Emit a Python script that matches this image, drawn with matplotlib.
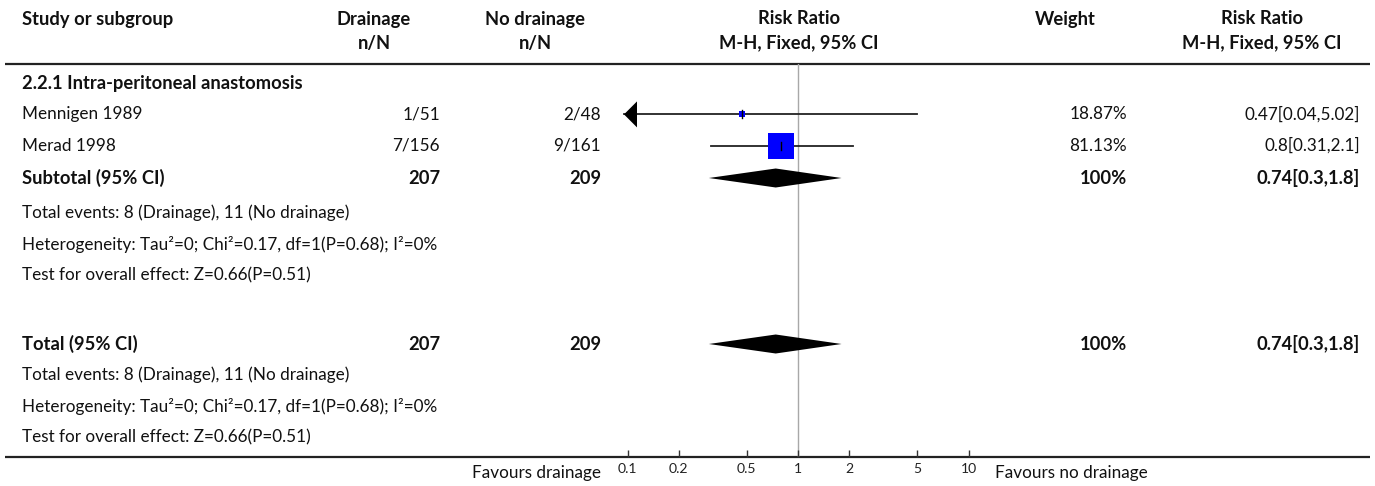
import numpy as np
import matplotlib
matplotlib.use("Agg")
import matplotlib.pyplot as plt

plt.rcParams['font.family'] = ['Lato', 'DejaVu Sans']

# ---------------- data ----------------
header1 = ["Study or subgroup", "Drainage", "No drainage", "Risk Ratio", "Weight", "Risk Ratio"]
header2 = ["", "n/N", "n/N", "M-H, Fixed, 95% CI", "", "M-H, Fixed, 95% CI"]
subgroup_title = "2.2.1 Intra-peritoneal anastomosis"
studies = ["Mennigen 1989", "Merad 1998"]
drain_nN = ["1/51", "7/156"]
nodrain_nN = ["2/48", "9/161"]
rr = [0.47, 0.8]
rr_lo = [0.04, 0.31]
rr_hi = [5.02, 2.1]
weights = [18.87, 81.13]
rr_text = ["0.47[0.04,5.02]", "0.8[0.31,2.1]"]

sub_label = "Subtotal (95% CI)"
sub_drain_N = "207"
sub_nodrain_N = "209"
sub_rr, sub_lo, sub_hi = 0.74, 0.3, 1.8
sub_weight = "100%"
sub_rr_text = "0.74[0.3,1.8]"
sub_notes = ["Total events: 8 (Drainage), 11 (No drainage)",
             "Heterogeneity: Tau\u00b2=0; Chi\u00b2=0.17, df=1(P=0.68); I\u00b2=0%",
             "Test for overall effect: Z=0.66(P=0.51)"]

tot_label = "Total (95% CI)"
tot_drain_N = "207"
tot_nodrain_N = "209"
tot_rr, tot_lo, tot_hi = 0.74, 0.3, 1.8
tot_weight = "100%"
tot_rr_text = "0.74[0.3,1.8]"
tot_notes = ["Total events: 8 (Drainage), 11 (No drainage)",
             "Heterogeneity: Tau\u00b2=0; Chi\u00b2=0.17, df=1(P=0.68); I\u00b2=0%",
             "Test for overall effect: Z=0.66(P=0.51)"]

ticks = [0.1, 0.2, 0.5, 1, 2, 5, 10]
tick_labels = ["0.1", "0.2", "0.5", "1", "2", "5", "10"]
fav_left = "Favours drainage"
fav_right = "Favours no drainage"

# ---------------- layout (pixels) ----------------
W, H = 1375, 486
x_left = 22
x_drain_c, x_drain_r = 374, 440
x_nod_c, x_nod_r = 535, 601
x_rr_c = 799
x_w_c, x_w_r = 1065, 1127
x_rr2_c, x_rr2_r = 1262, 1360
y_h1, y_h2, y_hline = 19, 43, 64
y_axis = 457
row0, row_h = 83, 31.4
one_px, dec_px = 798, 170.5   # pixel of RR=1 and pixels per decade
f_left, f_right = 600, 990

fig = plt.figure(figsize=(W / 100, H / 100), dpi=100)
ax = fig.add_axes([0, 0, 1, 1])
ax.set_xlim(0, W)
ax.set_ylim(H, 0)
ax.axis('off')

# calibrate font sizes to the reference text widths
fig.canvas.draw()
rend = fig.canvas.get_renderer()
def width_at(s, size, weight='normal'):
    t = ax.text(0, 0, s, fontsize=size, fontweight=weight)
    w = t.get_window_extent(rend).width
    t.remove()
    return w
FS = 10 * 414 / width_at(sub_notes[1], 10)
FSB = 10 * 151 / width_at(header1[0], 10, 'bold')
FST = 0.82 * FS

fax = fig.add_axes([f_left / W, (H - y_axis) / H, (f_right - f_left) / W, (y_axis - y_hline) / H])
fax.set_xscale('log')
fax.set_xlim(10 ** ((f_left - one_px) / dec_px), 10 ** ((f_right - one_px) / dec_px))
fax.set_ylim(y_axis, y_hline)
fax.patch.set_alpha(0)
for s in fax.spines.values():
    s.set_visible(False)
fax.set_yticks([])
fax.set_xticks(ticks)
fax.set_xticklabels(tick_labels)
fax.minorticks_off()
fax.tick_params(axis='x', direction='in', length=5, width=1, color='#333333',
                labelsize=FST, labelcolor='#222222', pad=4)

def txt(x, y, s, ha='left', bold=False):
    ax.text(x, y, s, ha=ha, va='center', fontsize=FSB if bold else FS,
            fontweight='bold' if bold else 'normal', color='#111111')

# headers
txt(x_left, y_h1, header1[0], bold=True)
txt(x_drain_c, y_h1, header1[1], ha='center', bold=True)
txt(x_nod_c, y_h1, header1[2], ha='center', bold=True)
txt(x_rr_c, y_h1, header1[3], ha='center', bold=True)
txt(x_w_c, y_h1, header1[4], ha='center', bold=True)
txt(x_rr2_c, y_h1, header1[5], ha='center', bold=True)
txt(x_drain_c, y_h2, header2[1], ha='center', bold=True)
txt(x_nod_c, y_h2, header2[2], ha='center', bold=True)
txt(x_rr_c, y_h2, header2[3], ha='center', bold=True)
txt(x_rr2_c, y_h2, header2[5], ha='center', bold=True)
ax.plot([5, 1370], [y_hline, y_hline], color='#222222', lw=1.6, solid_capstyle='butt')
ax.plot([5, 1370], [y_axis, y_axis], color='#222222', lw=1.6, solid_capstyle='butt')

# reference line at 1
fax.plot([1, 1], [y_hline, y_axis], color='#a8a8a8', lw=1.0, zorder=1)

rows = [row0 + i * row_h for i in range(12)]

txt(x_left, rows[0], subgroup_title, bold=True)

xmin = 10 ** ((624 - one_px) / dec_px)
for i, name in enumerate(studies):
    y = rows[1 + i]
    txt(x_left, y, name)
    txt(x_drain_r, y, drain_nN[i], ha='right')
    txt(x_nod_r, y, nodrain_nN[i], ha='right')
    txt(x_w_r, y, f"{weights[i]:.2f}%", ha='right')
    txt(x_rr2_r, y, rr_text[i], ha='right')
    lo = max(rr_lo[i], xmin)
    fax.plot([lo, rr_hi[i]], [y, y], color='#222222', lw=1.3, zorder=2)
    if rr_lo[i] < xmin:
        base = xmin * 10 ** (13 / dec_px)
        fax.fill([xmin, base, base], [y, y - 13, y + 13], color='black', lw=0, zorder=3)
    side = 0.31 * weights[i]
    fax.scatter([rr[i]], [y], marker='s', s=(side * 0.72) ** 2, color='#0000ff',
                linewidths=0, zorder=4)
    fax.plot([rr[i], rr[i]], [y - 4, y + 4], color='black', lw=1.0, zorder=5)

def summary(y, label, n1, n2, est, lo, hi, wtxt, rtxt, notes, yn):
    txt(x_left, y, label, bold=True)
    txt(x_drain_r, y, n1, ha='right', bold=True)
    txt(x_nod_r, y, n2, ha='right', bold=True)
    txt(x_w_r, y, wtxt, ha='right', bold=True)
    txt(x_rr2_r, y, rtxt, ha='right', bold=True)
    fax.fill([lo, est, hi, est], [y, y - 9.5, y, y + 9.5], color='black', lw=0, zorder=3)
    for k, n in enumerate(notes):
        txt(x_left, yn[k], n)

summary(178, sub_label, sub_drain_N, sub_nodrain_N, sub_rr, sub_lo, sub_hi,
        sub_weight, sub_rr_text, sub_notes, [213, 244, 275])
summary(344, tot_label, tot_drain_N, tot_nodrain_N, tot_rr, tot_lo, tot_hi,
        tot_weight, tot_rr_text, tot_notes, [375, 406, 437])

txt(601, 473, fav_left, ha='right')
txt(995, 473, fav_right, ha='left')

fig.savefig("out.png", dpi=100)
